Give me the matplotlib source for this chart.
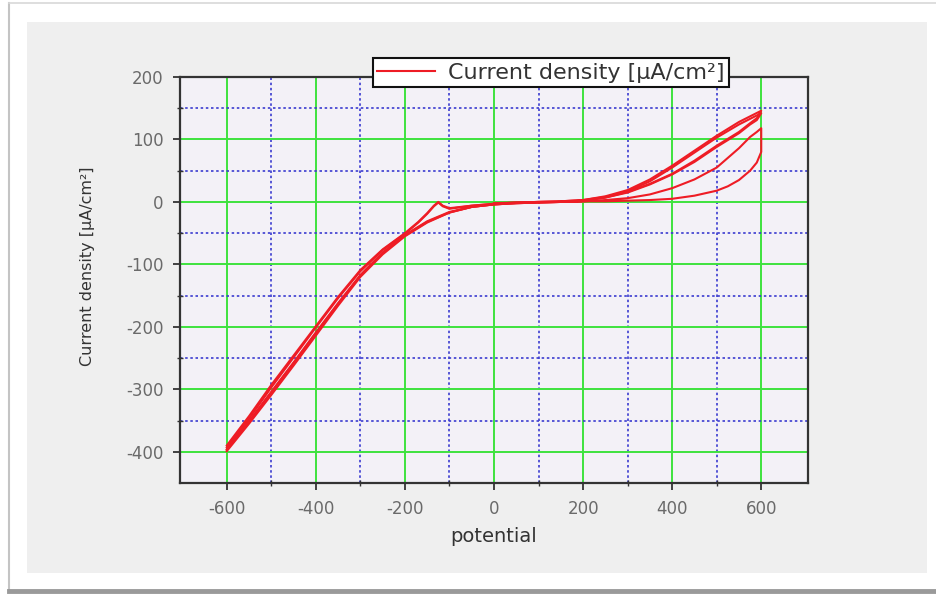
import matplotlib
matplotlib.use("Agg")
import matplotlib.pyplot as plt
from matplotlib.patches import Rectangle
from matplotlib.lines import Line2D
from matplotlib.ticker import FixedLocator

plt.rcParams["axes.unicode_minus"] = False

# ---- data: cyclic voltammogram, potential vs current density ----
# cycle 1: forward scan from the rest potential, then reverse scan to -600
c1_fwd_E = [0, 50, 100, 150, 200, 250, 300, 350, 400, 450, 500, 525, 550, 575, 590, 600]
c1_fwd_I = [-2, -1, 0, 0, 1, 1, 2, 3, 5, 10, 18, 25, 35, 50, 63, 80]

rev_E = [600, 590, 575, 550, 500, 450, 400, 350, 300, 250, 200, 150, 100, 50, 0,
         -50, -100, -150, -200, -250, -300, -350, -400, -450, -500, -550, -600]
c1_rev_I = [118, 112, 104, 86, 55, 36, 22, 12, 6, 3, 1, 0, -1, -2, -4,
            -8, -17, -32, -54, -82, -118, -163, -210, -258, -305, -352, -397]

# cycles 2 and 3: full forward scans from -600 to 600
fwd_E = [-600, -550, -500, -450, -400, -350, -300, -250, -200, -170, -150, -135, -125,
         -115, -100, -50, 0, 50, 100, 150, 200, 250, 300, 350, 400, 450, 500, 550, 575, 600]
c2_fwd_I = [-390, -343, -293, -246, -199, -152, -109, -76, -50, -32, -18, -6, 0,
            -6, -10, -6, -3, -1, 0, 1, 3, 8, 17, 33, 55, 79, 103, 124, 133, 142]
c3_fwd_I = [-393, -347, -297, -249, -201, -154, -111, -77, -51, -33, -19, -7, -1,
            -7, -11, -6, -3, -1, 0, 1, 3, 9, 19, 36, 58, 82, 106, 128, 137, 146]

c2_rev_I = [142, 131, 124, 110, 88, 64, 44, 28, 15, 7, 2, 0, -1, -2, -4,
            -8, -16, -31, -53, -81, -117, -162, -209, -257, -304, -351, -396]
c3_rev_I = [146, 134, 126, 112, 90, 66, 45, 29, 16, 7, 2, 0, -1, -2, -4,
            -8, -17, -33, -55, -84, -120, -166, -214, -262, -309, -355, -399]

x_ticks = [-600, -400, -200, 0, 200, 400, 600]
x_minor = [-500, -300, -100, 100, 300, 500]
y_ticks = [-400, -300, -200, -100, 0, 100, 200]
y_minor = [-350, -250, -150, -50, 50, 150]
series_label = "Current density [\u03bcA/cm\u00b2]"

# ---- figure ----
W, H = 936, 594
fig = plt.figure(figsize=(W / 100, H / 100), dpi=100, facecolor="white")

def fx(px):
    return px / W

def fy(py):
    return 1 - py / H

# framed grey panel behind the plot
fig.patches.append(Rectangle((fx(27), fy(573)), fx(927) - fx(27), fy(22) - fy(573),
                             transform=fig.transFigure, facecolor="#efefef",
                             edgecolor="none", zorder=-5))
fig.add_artist(Line2D([fx(9), fx(9)], [fy(3), fy(590)], transform=fig.transFigure,
                      color="#c4c4c4", lw=1.5, zorder=-5))
fig.add_artist(Line2D([fx(9), fx(936)], [fy(3), fy(3)], transform=fig.transFigure,
                      color="#d8d8d8", lw=1.2, zorder=-5))
fig.add_artist(Line2D([fx(9), fx(936)], [fy(591), fy(591)], transform=fig.transFigure,
                      color="#9a9a9a", lw=3.5, zorder=-5))

ax = fig.add_axes([fx(180), fy(483), fx(808) - fx(180), fy(77) - fy(483)])
ax.set_zorder(1)
ax.set_facecolor("#f3f1f7")
ax.set_xlim(-705, 705)
ax.set_ylim(-450, 200)

# grid: green solid majors, blue dotted minors
ax.xaxis.set_major_locator(FixedLocator(x_ticks))
ax.xaxis.set_minor_locator(FixedLocator(x_minor))
ax.yaxis.set_major_locator(FixedLocator(y_ticks))
ax.yaxis.set_minor_locator(FixedLocator(y_minor))
ax.grid(which="major", color="#3ee23e", lw=1.4, ls="-", zorder=1)
ax.grid(which="minor", color="#3b3bd0", lw=1.2, ls=(0, (1.5, 1.6)), zorder=1)
ax.set_axisbelow(True)

red = "#ee1c25"
lw = 1.5
ax.plot(c1_fwd_E + rev_E, c1_fwd_I + c1_rev_I, color=red, lw=lw, zorder=3)
ax.plot(fwd_E + rev_E, c2_fwd_I + c2_rev_I, color=red, lw=lw, zorder=3)
ax.plot(fwd_E + rev_E, c3_fwd_I + c3_rev_I, color=red, lw=lw, zorder=3,
        label=series_label)

for s in ax.spines.values():
    s.set_color("#333333")
    s.set_linewidth(1.6)

ax.tick_params(which="major", direction="out", length=5, width=1.3, color="#333333",
               labelsize=12, labelcolor="#6a6a6a", pad=7)
ax.tick_params(which="minor", direction="inout", length=5, width=1.0, color="#333333")
ax.tick_params(top=False, right=False, which="both")

ax.set_xlabel("potential", fontsize=14, color="#333333", labelpad=7)
ax.set_ylabel(series_label, fontsize=11.5, color="#333333")
ax.yaxis.set_label_coords(-0.136, 0.535)

leg = ax.legend(loc="center", bbox_to_anchor=(0.591, 1.01), fontsize=16,
                frameon=True, fancybox=False, handlelength=2.6, handletextpad=0.6,
                borderpad=0.2, borderaxespad=0)
leg.get_frame().set_edgecolor("#111111")
leg.get_frame().set_linewidth(1.5)
leg.get_frame().set_facecolor("white")
leg.get_frame().set_alpha(1)
for t in leg.get_texts():
    t.set_color("#333333")
leg.set_zorder(10)

fig.savefig("out.png", dpi=100, facecolor=fig.get_facecolor())
